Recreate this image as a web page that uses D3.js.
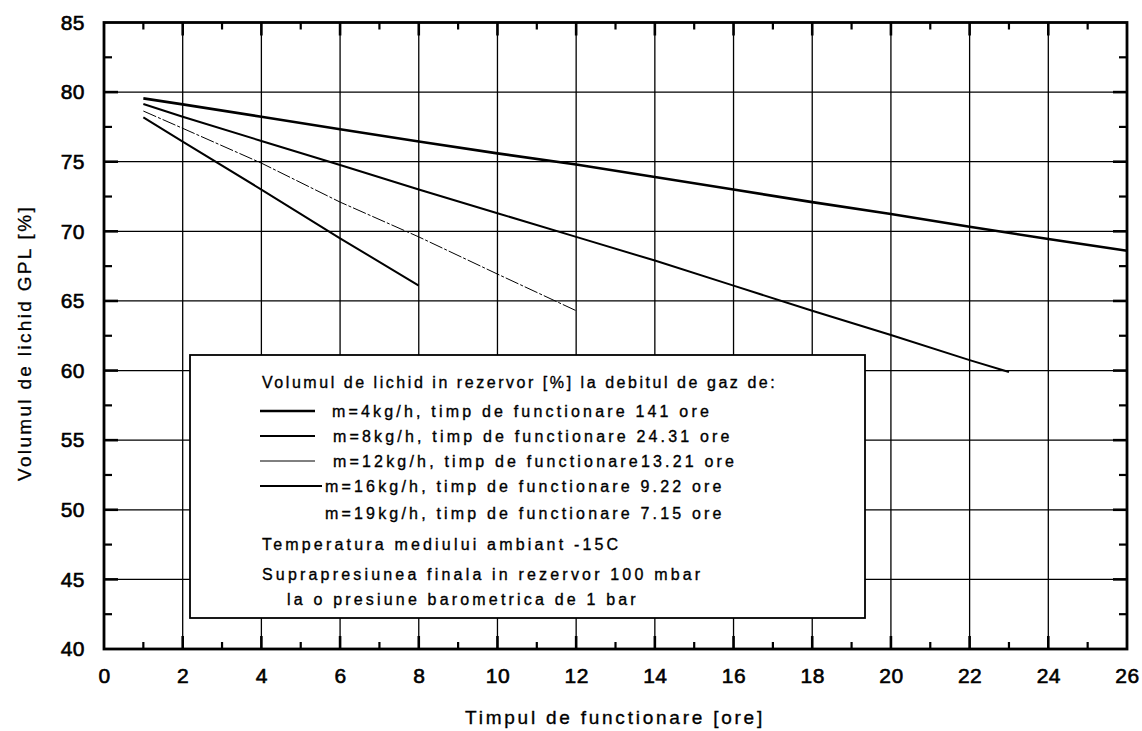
<!DOCTYPE html>
<html><head><meta charset="utf-8">
<script src="https://cdn.jsdelivr.net/npm/d3@7"></script>
<style>
html,body{margin:0;padding:0;background:#fff;}
text{font-family:"Liberation Sans",Arial,sans-serif;fill:#000;}
</style></head>
<body><svg id="c" width="1142" height="731"></svg>
<script>
// ---- data ----
const xTicks = [0,2,4,6,8,10,12,14,16,18,20,22,24,26];
const yTicks = [40,45,50,55,60,65,70,75,80,85];
const s4x = [1,2,4,6,8,10,12,14,16,18,20,22,24,26];
const s4y = [79.55,79.12,78.23,77.33,76.45,75.6,74.8,73.9,73.0,72.1,71.24,70.33,69.45,68.6];
const s8x = [1,2,4,6,8,10,12,14,16,18,20,22,23];
const s8y = [79.15,78.23,76.49,74.76,73.0,71.3,69.6,67.9,66.1,64.3,62.55,60.75,59.9];
const s12x = [1,2,4,6,8,10,12];
const s12y = [78.64,77.4,74.9,72.1,69.6,66.93,64.3];
const s16x = [1,2,4,6,8];
const s16y = [78.19,76.44,73.0,69.5,66.1];
const legendTitle = "Volumul de lichid in rezervor [%] la debitul de gaz de:";
const legendLabels = [
  "m=4kg/h, timp de functionare 141 ore",
  "m=8kg/h, timp de functionare 24.31 ore",
  "m=12kg/h, timp de functionare13.21 ore",
  "m=16kg/h, timp de functionare 9.22 ore",
  "m=19kg/h, timp de functionare 7.15 ore"
];
const notes = [
  "Temperatura mediului ambiant -15C",
  "Suprapresiunea finala in rezervor 100 mbar",
  "la o presiune barometrica de 1 bar"
];
const xTitle = "Timpul de functionare [ore]";
const yTitle = "Volumul de lichid GPL [%]";

// ---- layout ----
const svg = d3.select("#c");
const L = 104, R = 1127, T = 22.5, B = 649;
const x = d3.scaleLinear().domain([0,26]).range([L,R]);
const y = d3.scaleLinear().domain([40,85]).range([B,T]);

function fitLS(sel, target){
  const n = sel.text().length;
  sel.attr("letter-spacing",0);
  const w = sel.node().getComputedTextLength();
  const ls = (target - w)/n;
  sel.attr("letter-spacing", ls);
  return ls;
}

// grid
const g = svg.append("g");
g.selectAll(".vg").data(xTicks.slice(1,-1)).join("line")
  .attr("x1",d=>x(d)).attr("x2",d=>x(d)).attr("y1",T).attr("y2",B)
  .attr("stroke","#000").attr("stroke-width",1.3);
g.selectAll(".hg").data(yTicks.slice(1,-1)).join("line")
  .attr("y1",d=>y(d)).attr("y2",d=>y(d)).attr("x1",L).attr("x2",R)
  .attr("stroke","#000").attr("stroke-width",1.3);

// series
const series = [
  {xs:s4x, ys:s4y, w:2.6, dash:null},
  {xs:s8x, ys:s8y, w:2.0, dash:null},
  {xs:s12x, ys:s12y, w:1.0, dash:"14,2,3,2"},
  {xs:s16x, ys:s16y, w:2.0, dash:null}
];
const line = d3.line().x(d=>x(d[0])).y(d=>y(d[1]));
series.forEach(s=>{
  svg.append("path").datum(s.xs.map((v,i)=>[v,s.ys[i]]))
    .attr("d",line).attr("fill","none").attr("stroke","#000")
    .attr("stroke-width",s.w).attr("stroke-dasharray",s.dash);
});

// inward ticks
const minorX = d3.range(1,26,2);
const minorY = d3.range(42.5,85,5);
const ax = svg.append("g");
[[B,-1],[T,1]].forEach(([yy,dir])=>{
  xTicks.slice(1,-1).forEach(d=>ax.append("line").attr("x1",x(d)).attr("x2",x(d)).attr("y1",yy).attr("y2",yy+dir*13).attr("stroke","#000").attr("stroke-width",2.6));
  minorX.forEach(d=>ax.append("line").attr("x1",x(d)).attr("x2",x(d)).attr("y1",yy).attr("y2",yy+dir*7).attr("stroke","#000").attr("stroke-width",2.2));
});
[[L,1],[R,-1]].forEach(([xx,dir])=>{
  yTicks.slice(1,-1).forEach(d=>ax.append("line").attr("y1",y(d)).attr("y2",y(d)).attr("x1",xx).attr("x2",xx+dir*14).attr("stroke","#000").attr("stroke-width",2.6));
  minorY.forEach(d=>ax.append("line").attr("y1",y(d)).attr("y2",y(d)).attr("x1",xx).attr("x2",xx+dir*8).attr("stroke","#000").attr("stroke-width",2.2));
});
svg.append("rect").attr("x",L).attr("y",T).attr("width",R-L).attr("height",B-T)
  .attr("fill","none").attr("stroke","#000").attr("stroke-width",2.8);

// tick labels
const xa = svg.append("g").attr("transform",`translate(0,${B})`)
  .call(d3.axisBottom(x).tickValues(xTicks).tickSize(0).tickPadding(19).tickFormat(d3.format("d")));
const ya = svg.append("g").attr("transform",`translate(${L},0)`)
  .call(d3.axisLeft(y).tickValues(yTicks).tickSize(0).tickPadding(19).tickFormat(d3.format("d")));
[xa,ya].forEach(a=>{
  a.select(".domain").remove();
  a.selectAll("text").attr("font-size",21).attr("letter-spacing",0.5)
    .attr("font-family","'Liberation Sans',Arial,sans-serif").attr("fill","#000")
    .attr("stroke","#000").attr("stroke-width",0.6);
});
xa.selectAll("text").attr("dy","0.71em");

// axis titles
const xt = svg.append("text").attr("x",615).attr("y",724).attr("text-anchor","middle")
  .attr("font-size",19).attr("stroke","#000").attr("stroke-width",0.35).text(xTitle);
fitLS(xt,300);
const yt = svg.append("text").attr("transform","translate(31,343) rotate(-90)").attr("text-anchor","middle")
  .attr("font-size",19).attr("stroke","#000").attr("stroke-width",0.3).text(yTitle);
fitLS(yt,276);

// legend box
const lg = svg.append("g");
lg.append("rect").attr("x",190).attr("y",355).attr("width",675).attr("height",263)
  .attr("fill","#fff").attr("stroke","#000").attr("stroke-width",1.8);
const fs = 16;
function ltext(t, xx, yy){
  return lg.append("text").attr("x",xx).attr("y",yy).attr("font-size",fs)
    .attr("stroke","#000").attr("stroke-width",0.35).text(t);
}
const rowY = [417,442,467,492,519];
const textX = [332,333,333,325,325];
const first = ltext(legendLabels[0], textX[0], rowY[0]);
const ls = fitLS(first, 380);
legendLabels.forEach((t,i)=>{
  if(i>0) ltext(t, textX[i], rowY[i]).attr("letter-spacing", ls);
  if(i<series.length){
    lg.append("line").attr("x1",260).attr("x2",i===3?322:315).attr("y1",rowY[i]-6).attr("y2",rowY[i]-6)
      .attr("stroke","#000").attr("stroke-width",series[i].w);
  }
});
ltext(legendTitle, 262, 388).attr("letter-spacing", ls*0.8);
const noteY = [550,580,605];
const noteX = [262,262,287];
notes.forEach((t,i)=> ltext(t, noteX[i], noteY[i]).attr("letter-spacing", ls));
</script></body></html>
